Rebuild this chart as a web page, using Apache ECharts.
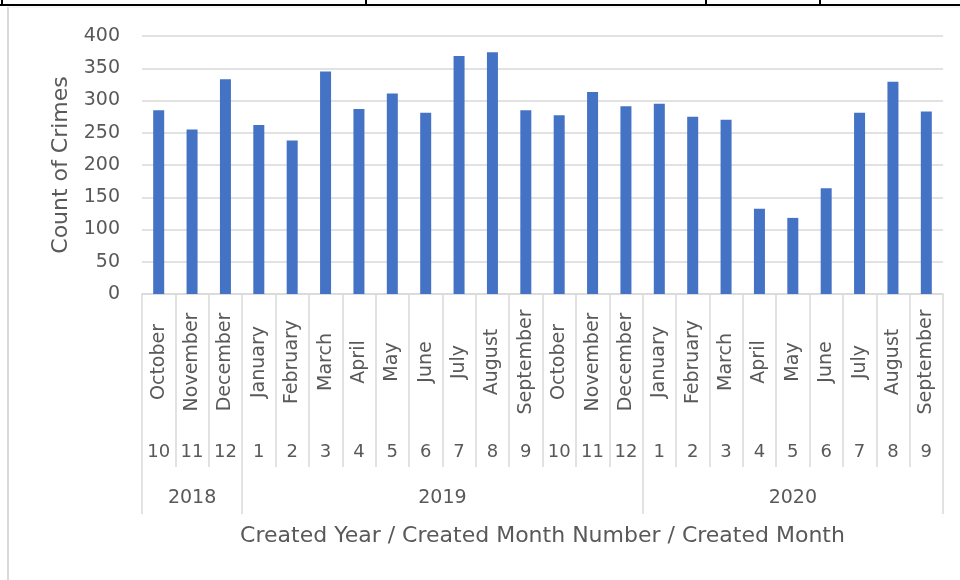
<!DOCTYPE html>
<html>
<head>
<meta charset="utf-8">
<script src="https://cdn.jsdelivr.net/npm/echarts@6/dist/echarts.min.js"></script>
<style>
  html, body { margin: 0; padding: 0; background: #fff; }
  #container { width: 960px; height: 580px; }
</style>
</head>
<body>
<div id="container"></div>
<script>
var months = ["October", "November", "December", "January", "February", "March", "April", "May", "June", "July", "August", "September",
  "October", "November", "December", "January", "February", "March", "April", "May", "June", "July", "August", "September"];
var monthNumbers = ["10", "11", "12", "1", "2", "3", "4", "5", "6", "7", "8", "9",
  "10", "11", "12", "1", "2", "3", "4", "5", "6", "7", "8", "9"];
var crimes = [285, 255, 333, 262, 238, 345, 287, 311, 281, 369, 375, 285,
  277, 313, 291, 295, 275, 270, 132, 118, 164, 281, 329, 283];
var years = ["2018", "2019", "2020"];
var yearSpans = [3, 12, 9];

var dom = document.getElementById("container");
var myChart = echarts.init(dom);

var font = "DejaVu Sans";
var textColor = "#595959";
var lineColor = "#d9d9d9";

// year boundaries and centres in month units
var yearStarts = [];
var yearCenters = {};
var acc = 0;
yearSpans.forEach(function (span, i) {
  yearStarts.push(acc);
  yearCenters[(acc + span / 2).toFixed(1)] = years[i];
  acc += span;
});

var option = {
  backgroundColor: "#fff",
  animation: false,
  textStyle: { fontFamily: font },
  grid: { left: 142, right: 17, top: 36, bottom: 286, containLabel: false },
  graphic: [
    { type: "rect", shape: { x: 0, y: 4, width: 960, height: 2 }, style: { fill: "#000" } },
    { type: "rect", shape: { x: 1, y: 0, width: 2, height: 6 }, style: { fill: "#000" } },
    { type: "rect", shape: { x: 365, y: 0, width: 2, height: 6 }, style: { fill: "#000" } },
    { type: "rect", shape: { x: 705, y: 0, width: 2, height: 6 }, style: { fill: "#000" } },
    { type: "rect", shape: { x: 819, y: 0, width: 2, height: 6 }, style: { fill: "#000" } },
    { type: "line", shape: { x1: 8, y1: 7, x2: 8, y2: 580 }, style: { stroke: lineColor, lineWidth: 2 } },
    { type: "line", shape: { x1: 8, y1: 7, x2: 960, y2: 7 }, style: { stroke: "#eeeeee", lineWidth: 1 } }
  ],
  xAxis: [
    {
      type: "category",
      data: months,
      position: "bottom",
      name: "Created Year / Created Month Number / Created Month",
      nameLocation: "middle",
      nameGap: 231,
      nameTextStyle: { fontFamily: font, fontSize: 22, color: textColor },
      axisLine: { show: true, lineStyle: { color: lineColor, width: 1.5 } },
      axisTick: { show: true, interval: 0, length: 173, lineStyle: { color: lineColor, width: 1.5 } },
      axisLabel: {
        interval: 0, rotate: 90, margin: 68, align: "center", verticalAlign: "middle",
        fontFamily: font, fontSize: 19, color: textColor
      }
    },
    {
      type: "category",
      data: monthNumbers,
      position: "bottom",
      axisLine: { show: false },
      axisTick: { show: false },
      axisLabel: {
        interval: 0, margin: 158, verticalAlign: "middle",
        fontFamily: font, fontSize: 18, color: textColor
      }
    },
    {
      type: "category",
      data: months,
      position: "bottom",
      axisLine: { show: false },
      axisTick: {
        show: true, length: 220,
        interval: function (index) { return yearStarts.indexOf(index) >= 0; },
        lineStyle: { color: lineColor, width: 1.5 }
      },
      axisLabel: { show: false }
    },
    {
      type: "value",
      min: 0,
      max: 24,
      interval: 1.5,
      position: "bottom",
      axisLine: { show: false },
      axisTick: { show: false },
      splitLine: { show: false },
      axisLabel: {
        margin: 204, verticalAlign: "middle",
        fontFamily: font, fontSize: 19, color: textColor,
        formatter: function (v) { return yearCenters[v.toFixed(1)] || ""; }
      }
    }
  ],
  yAxis: {
    type: "value",
    min: 0,
    max: 400,
    interval: 50,
    name: "Count of Crimes",
    nameLocation: "middle",
    nameGap: 70,
    nameTextStyle: { fontFamily: font, fontSize: 22, color: textColor },
    axisLine: { show: false },
    axisTick: { show: false },
    axisLabel: { margin: 22, fontFamily: font, fontSize: 19, color: textColor },
    splitLine: { lineStyle: { color: lineColor, width: 1.5 } }
  },
  series: [
    {
      name: "Count of Crimes",
      type: "bar",
      xAxisIndex: 0,
      yAxisIndex: 0,
      barWidth: 11,
      itemStyle: { color: "#4472C4" },
      data: crimes
    }
  ]
};

myChart.setOption(option);
</script>
</body>
</html>
